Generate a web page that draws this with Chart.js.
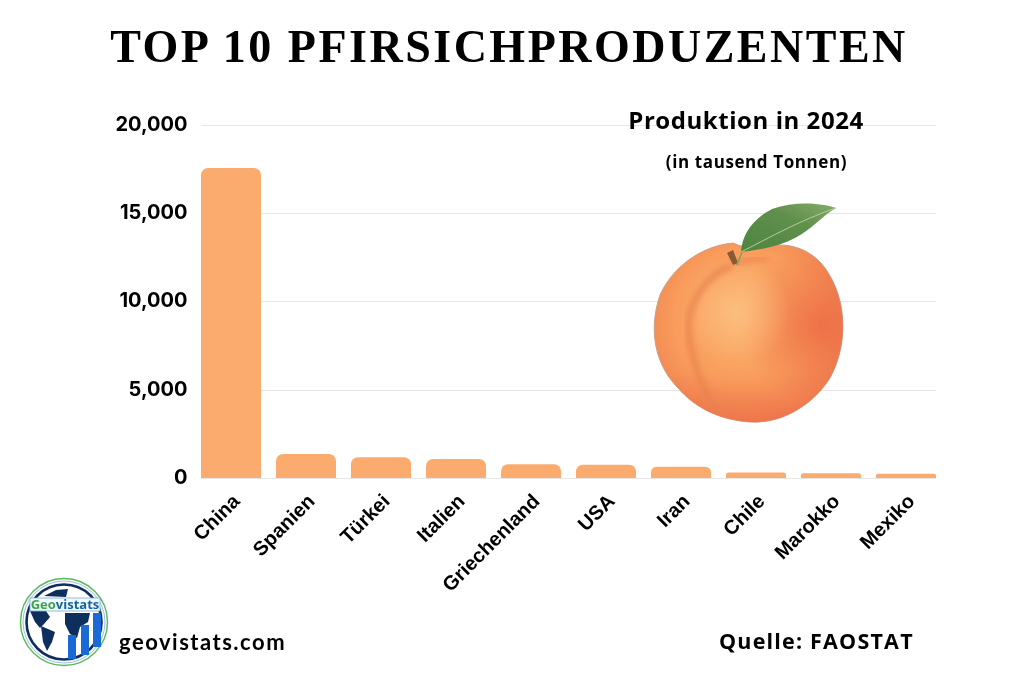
<!DOCTYPE html>
<html lang="de">
<head>
<meta charset="utf-8">
<title>Top 10 Pfirsichproduzenten</title>
<script src="https://cdn.jsdelivr.net/npm/chart.js@4"></script>
<style>
html, body { margin:0; padding:0; background:#fff; }
#wrap { position:relative; width:1024px; height:683px; overflow:hidden; background:#fff; }
#chart { position:absolute; left:0; top:0; }
#art { position:absolute; left:0; top:0; }
.txt { position:absolute; white-space:nowrap; color:#000; line-height:1; }
#title { left:0; width:1018px; top:20px; text-align:center; font:700 46px "Liberation Serif", serif; letter-spacing:2.5px; }
#sub1 { left:546px; width:400px; top:103px; text-align:center; font:700 24px "Open Sans", sans-serif; letter-spacing:.55px; }
#sub2 { left:546px; width:421px; top:150px; text-align:center; font:700 17px "Open Sans", sans-serif; letter-spacing:.6px; }
#site { left:119px; top:628px; font:700 22px "Lato", sans-serif; letter-spacing:1.5px; }
#source { left:719px; top:626px; font:700 21.5px "Open Sans", sans-serif; letter-spacing:1.2px; }
</style>
</head>
<body>
<div id="wrap">
  <canvas id="chart" width="1024" height="683"></canvas>

  <svg id="art" width="1024" height="683" viewBox="0 0 1024 683">
    <defs>
      <radialGradient id="peachBase" gradientUnits="userSpaceOnUse" cx="745" cy="320" r="118">
        <stop offset="0" stop-color="#fbae68"/>
        <stop offset=".6" stop-color="#f99c5c"/>
        <stop offset="1" stop-color="#ee7c4e"/>
      </radialGradient>
      <radialGradient id="peachBlush" gradientUnits="userSpaceOnUse" cx="820" cy="325" r="80">
        <stop offset="0" stop-color="#e9603f" stop-opacity=".7"/>
        <stop offset="1" stop-color="#e9603f" stop-opacity="0"/>
      </radialGradient>
      <radialGradient id="peachGlow" gradientUnits="userSpaceOnUse" cx="735" cy="310" r="55">
        <stop offset="0" stop-color="#fcc083" stop-opacity=".85"/>
        <stop offset="1" stop-color="#fcc083" stop-opacity="0"/>
      </radialGradient>
      <linearGradient id="peachBottom" x1="0" y1="0" x2="0" y2="1">
        <stop offset=".7" stop-color="#ee6f48" stop-opacity="0"/>
        <stop offset="1" stop-color="#ec6a45" stop-opacity=".7"/>
      </linearGradient>
      <linearGradient id="leafFill" x1="0" y1="1" x2="1" y2="0">
        <stop offset="0" stop-color="#4f8440"/>
        <stop offset=".6" stop-color="#5f8f4c"/>
        <stop offset="1" stop-color="#88ab68"/>
      </linearGradient>
      <filter id="soft"><feGaussianBlur stdDeviation="3"/></filter>
      <clipPath id="peachClip">
        <path d="M733 243C700 246 672 268 660 295C648 330 655 365 678 388C695 408 720 420 750 422C785 424 815 402 830 378C848 345 848 300 825 268C812 250 790 242 770 246C755 250 745 248 733 243Z"/>
      </clipPath>
    </defs>

    <!-- peach -->
    <path d="M733 243C700 246 672 268 660 295C648 330 655 365 678 388C695 408 720 420 750 422C785 424 815 402 830 378C848 345 848 300 825 268C812 250 790 242 770 246C755 250 745 248 733 243Z" fill="url(#peachBase)" stroke="#c9a08a" stroke-width="1"/>
    <g clip-path="url(#peachClip)">
      <rect x="650" y="238" width="200" height="190" fill="url(#peachBottom)"/>
      <circle cx="820" cy="325" r="80" fill="url(#peachBlush)"/>
      <circle cx="735" cy="310" r="55" fill="url(#peachGlow)"/>
      <path d="M732 266C712 272 694 292 689 318C687 345 697 385 722 418" fill="none" stroke="#e8824e" stroke-width="5" filter="url(#soft)"/>
      <path d="M733 265C745 261 752 257 768 258" fill="none" stroke="#e77b49" stroke-width="3" filter="url(#soft)"/>
    </g>
    <!-- stem -->
    <path d="M733 265L727 253L733 250L738 263Z" fill="#8a5a36"/>
    <path d="M737 265L742 252" stroke="#7ea45a" stroke-width="1.6"/>
    <!-- leaf -->
    <path d="M741 252C742 235 752 219 772 209C795 201 820 203 836 208C822 216 812 229 795 238C778 247 758 250 741 252Z" fill="url(#leafFill)"/>
    <path d="M741 252C765 240 800 220 836 208" fill="none" stroke="#b4cc98" stroke-width="1"/>

    <!-- logo -->
    <circle cx="64" cy="622" r="43.5" fill="#f9fbfd" stroke="#5cb85c" stroke-width="1.4"/>
    <circle cx="64" cy="622" r="41" fill="none" stroke="#9fc0e6" stroke-width="1"/>
    <circle cx="64" cy="622" r="37.5" fill="#fff" stroke="#0e2f5e" stroke-width="2.6"/>
    <path d="M30 611L46 611L50 617L44 624L40 628L35 622Z" fill="#0e2f5e"/>
    <path d="M41 626L55 632L52 642L47 651L43 642Z" fill="#0e2f5e"/>
    <path d="M65 613L90 613L88 622L80 627L77 638L70 634L65 624Z" fill="#0e2f5e"/>
    <path d="M44 596L56 590L68 589L66 597Z" fill="#0e2f5e"/>
    <rect x="68" y="635" width="8" height="24" fill="#1a6ad6"/>
    <rect x="81" y="625" width="8" height="30" fill="#1a6ad6"/>
    <rect x="93" y="613" width="8" height="34" fill="#1a6ad6"/>
    <rect x="30" y="598" width="70" height="13" fill="#f3f8fd" stroke="#7ea9dc" stroke-width=".8"/>
    <text x="65" y="609" text-anchor="middle" font-family="Open Sans" font-weight="700" font-size="13"><tspan fill="#3aa648">Geo</tspan><tspan fill="#14679c">vistats</tspan></text>
  </svg>

  <div class="txt" id="title">TOP 10 PFIRSICHPRODUZENTEN</div>
  <div class="txt" id="sub1">Produktion in 2024</div>
  <div class="txt" id="sub2">(in tausend Tonnen)</div>
  <div class="txt" id="site">geovistats.com</div>
  <div class="txt" id="source">Quelle: FAOSTAT</div>
</div>

<script>
const countries = ['China', 'Spanien', 'Türkei', 'Italien', 'Griechenland', 'USA', 'Iran', 'Chile', 'Marokko', 'Mexiko'];
const production = [17540, 1360, 1170, 1080, 780, 750, 640, 310, 270, 245];
const yTicks = [0, 5000, 10000, 15000, 20000];

// grid only spans first bar edge to last bar edge, so it is drawn here
const shortGrid = {
    id: 'shortGrid',
    beforeDatasetsDraw(chart) {
        const { ctx, scales } = chart;
        const halfBar = scales.x.width / countries.length * 0.8 / 2;
        const left = scales.x.getPixelForValue(0) - halfBar;
        const right = scales.x.getPixelForValue(countries.length - 1) + halfBar;
        ctx.save();
        ctx.strokeStyle = '#e6e6e6';
        ctx.lineWidth = 1;
        yTicks.forEach(v => {
            const y = Math.round(scales.y.getPixelForValue(v)) + 0.5;
            ctx.beginPath();
            ctx.moveTo(left, y);
            ctx.lineTo(right, y);
            ctx.stroke();
        });
        ctx.restore();
    }
};

new Chart(document.getElementById('chart').getContext('2d'), {
    type: 'bar',
    data: {
        labels: countries,
        datasets: [{
            data: production,
            backgroundColor: '#fcab6f',
            barPercentage: 0.8,
            categoryPercentage: 1,
            borderRadius: 7
        }]
    },
    plugins: [shortGrid],
    options: {
        responsive: false,
        animation: false,
        devicePixelRatio: 1,
        layout: { padding: { top: 124.5, right: 80.5, left: 0, bottom: 0 } },
        plugins: { legend: { display: false }, tooltip: { enabled: false } },
        scales: {
            x: {
                grid: { display: false },
                border: { display: false },
                afterFit: s => { s.height = 205; },
                ticks: {
                    color: '#000',
                    font: { family: 'Liberation Sans', size: 20, weight: 'bold' },
                    minRotation: 45,
                    maxRotation: 45,
                    padding: 4,
                    labelOffset: 6,
                    autoSkip: false
                }
            },
            y: {
                min: 0,
                max: 20000,
                afterFit: s => { s.width = 193.5; },
                afterBuildTicks: s => { s.ticks = yTicks.map(v => ({ value: v })); },
                grid: { display: false },
                border: { display: false },
                ticks: {
                    color: '#000',
                    font: { family: 'Inter', size: 20, weight: '700' },
                    padding: -2,
                    callback: v => v.toLocaleString('en-US')
                }
            }
        }
    }
});
</script>
</body>
</html>
